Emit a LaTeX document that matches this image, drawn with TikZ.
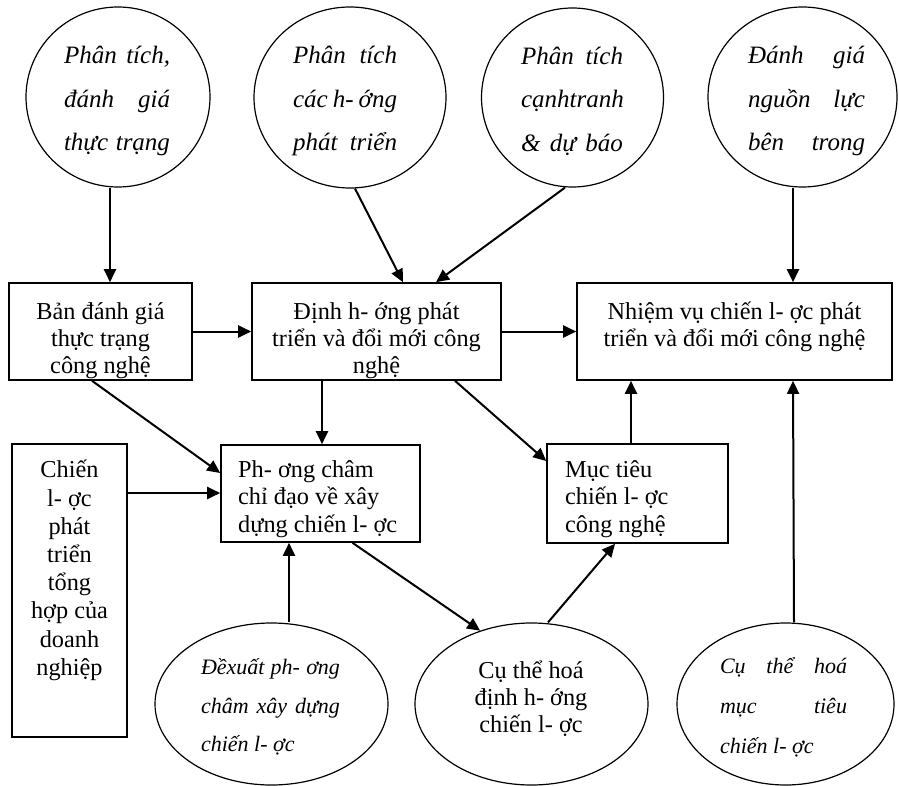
\documentclass[tikz,border=0pt]{standalone}
\usepackage{fontspec}
\setmainfont{Liberation Serif}
\usetikzlibrary{shapes.geometric,arrows.meta}
\begin{document}
\begin{tikzpicture}[x=1pt,y=-1pt,
  box/.style={draw, line width=1.6pt, rectangle, inner sep=0pt},
  ell/.style={draw, line width=1.2pt, ellipse, inner sep=0pt},
  boxt/.style={inner sep=0pt, align=center, font=\fontsize{24.3}{27.2}\selectfont},
  lboxt/.style={boxt, align=left, anchor=west},
  topt/.style={inner sep=0pt, align=center, font=\itshape\fontsize{25}{43.5}\selectfont},
  bott/.style={inner sep=0pt, align=center, font=\itshape\fontsize{22}{39}\selectfont},
  regt/.style={inner sep=0pt, align=center, font=\fontsize{24.3}{27}\selectfont},
  arr/.style={line width=2pt, -{Triangle[length=13pt,width=12pt]}},
]
\useasboundingbox (0,0) rectangle (899,786);

% top circles
\node[ell, minimum width=184pt, minimum height=180pt] (c1) at (118,97) {};
\node[ell, minimum width=192pt, minimum height=181pt] (c2) at (350,97.5) {};
\node[ell, minimum width=182pt, minimum height=179pt] (c3) at (572.5,97.5) {};
\node[ell, minimum width=189pt, minimum height=180pt] (c4) at (802.5,97) {};

\node[topt] (c1t) at (117,101) {\makebox[106pt][s]{Phân tích,}\\\makebox[106pt][s]{đánh giá}\\\makebox[106pt][s]{thực trạng}};
\node[topt] (c2t) at (345,101) {\makebox[104pt][s]{Phân tích}\\\makebox[104pt][s]{các h- ớng}\\\makebox[104pt][s]{phát triển}};
\node[topt] (c3t) at (572,101) {\makebox[102pt][s]{Phân tích}\\\makebox[102pt][l]{cạnhtranh}\\\makebox[102pt][s]{\& dự báo}};
\node[topt] (c4t) at (806.5,101) {\makebox[117pt][s]{Đánh giá}\\\makebox[117pt][s]{nguồn lực}\\\makebox[117pt][s]{bên trong}};

% middle boxes
\node[box, minimum width=183pt, minimum height=97pt] (b1) at (100.5,331.5) {};
\node[box, minimum width=249pt, minimum height=97pt] (b2) at (376.5,331.5) {};
\node[box, minimum width=315pt, minimum height=97pt] (b3) at (734.5,331.5) {};
\node[boxt] (b1t) at (100.5,340.5) {Bản đánh giá\\thực trạng\\công nghệ};
\node[boxt] (b2t) at (376.5,340.5) {Định h- ớng phát\\triển và đổi mới công\\nghệ};
\node[boxt] (b3t) at (734.5,340.5) {Nhiệm vụ chiến l- ợc phát\\triển và đổi mới công nghệ\\\phantom{công nghệ}};

\node[box, minimum width=199pt, minimum height=97pt] (b4) at (320.5,493.5) {};
\node[box, minimum width=181pt, minimum height=99pt] (b6) at (637.5,493.5) {};
\node[lboxt] (b4t) at (238,499) {Ph- ơng châm\\chỉ đạo về xây\\dựng chiến l- ợc};
\node[lboxt] (b6t) at (565,499) {Mục tiêu\\chiến l- ợc\\công nghệ};

\node[box, minimum width=115pt, minimum height=293pt] (b5) at (69.5,590.5) {};
\node[regt, font=\fontsize{24.3}{28.2}\selectfont, anchor=north] (b5t) at (69.5,460) {Chiến\\l- ợc\\phát\\triển\\tổng\\hợp của\\doanh\\nghiệp};

% bottom ellipses
\node[ell, minimum width=233pt, minimum height=162pt] (e1) at (271.5,704) {};
\node[ell, minimum width=233pt, minimum height=162pt] (e2) at (531.5,704) {};
\node[ell, minimum width=217pt, minimum height=162pt] (e3) at (785.5,704) {};

\node[bott, font=\itshape\fontsize{22}{38.5}\selectfont] (e1t) at (270.5,707) {\makebox[139pt][s]{Đềxuất ph- ơng}\\\makebox[139pt][s]{châm xây dựng}\\\makebox[139pt][l]{chiến l- ợc}};
\node[regt] (e2t) at (531,699) {Cụ thể hoá\\định h- ớng\\chiến l- ợc};
\node[bott, font=\itshape\fontsize{22}{40}\selectfont] (e3t) at (783.5,707) {\makebox[127pt][s]{Cụ thể hoá}\\\makebox[127pt][s]{mục tiêu}\\\makebox[127pt][l]{chiến l- ợc}};

% connectors
\draw[arr] ([xshift=-8pt]c1.south) -- ([xshift=9.5pt]b1.north);
\draw[arr] ([xshift=5pt]c2.south) -- ([xshift=26.5pt]b2.north);
\draw[arr] ([xshift=-7.5pt]c3.south) -- ([xshift=59.5pt]b2.north);
\draw[arr] ([xshift=-9.5pt]c4.south) -- ([xshift=58.5pt]b3.north);
\draw[arr] (b1.east) -- (b2.west);
\draw[arr] (b2.east) -- (b3.west);
\draw[arr] ([xshift=-54.5pt]b2.south) -- ([xshift=1.5pt]b4.north);
\draw[arr] ([xshift=-8.5pt]b1.south) -- ([yshift=20.5pt]b4.west);
\draw[arr] ([yshift=97.5pt]b5.east) -- ([yshift=0.5pt]b4.west);
\draw[arr] ([xshift=78.5pt]b2.south) -- ([yshift=32.5pt]b6.west);
\draw[arr] ([xshift=-6.5pt]b6.north) -- ([xshift=-103.5pt]b3.south);
\draw[arr] ([xshift=8.5pt]e3.north) -- ([xshift=58.5pt]b3.south);
\draw[arr] ([xshift=17.5pt]e1.north) -- ([xshift=-31.5pt]b4.south);
\draw[arr] ([xshift=32pt]b4.south) -- (e2.125);
\draw[arr] ([xshift=16.5pt]e2.north) -- ([xshift=-22.5pt]b6.south);
\end{tikzpicture}
\end{document}
